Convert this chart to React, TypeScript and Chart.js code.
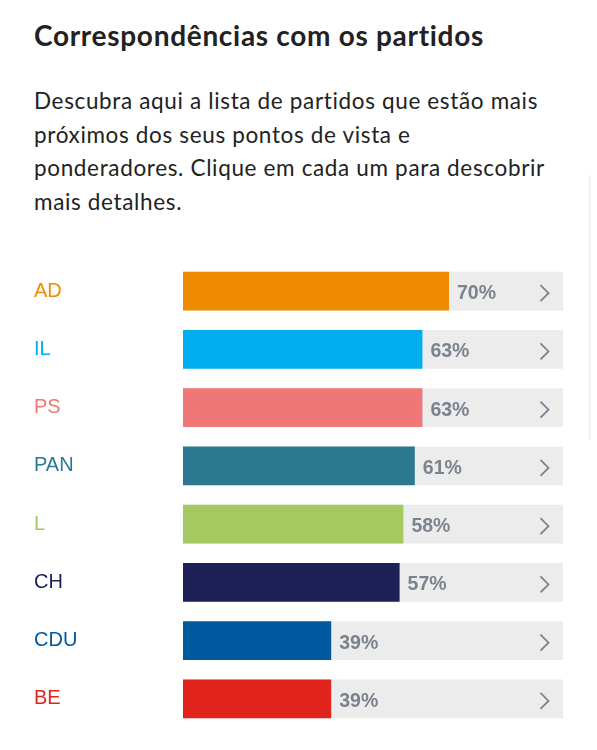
import React, { useEffect, useRef } from "react";
import { Chart, registerables } from "chart.js";

Chart.register(...registerables);

const TITLE = "Correspondências com os partidos";
const DESCRIPTION_LINES = [
  "Descubra aqui a lista de partidos que estão mais",
  "próximos dos seus pontos de vista e",
  "ponderadores. Clique em cada um para descobrir",
  "mais detalhes.",
];

const parties = ["AD", "IL", "PS", "PAN", "L", "CH", "CDU", "BE"];
const scores = [70, 63, 63, 61, 58, 57, 39, 39];
const trackValues = [100, 100, 100, 100, 100, 100, 100, 100];
const partyColors = ["#ef8b00", "#00aeef", "#ef7777", "#2b7891", "#a3c960", "#1e2157", "#005aa0", "#e0231b"];

const TRACK_COLOR = "#ececec";
const LABEL_GRAY = "#7b838f";

const valueLabelPlugin = {
  id: "valueLabels",
  afterDatasetsDraw(chart: any) {
    const ctx = chart.ctx;
    const meta = chart.getDatasetMeta(1);
    const xScale = chart.scales.x;
    const xEnd = xScale.getPixelForValue(100);
    ctx.save();
    ctx.fillStyle = LABEL_GRAY;
    ctx.strokeStyle = LABEL_GRAY;
    ctx.font = "bold 19.5px 'Liberation Sans', Arial, sans-serif";
    ctx.textBaseline = "middle";
    ctx.textAlign = "left";
    meta.data.forEach((bar: any, i: number) => {
      const y = bar.y;
      ctx.fillText(`${scores[i]}%`, bar.x + 8, y + 2.5);
      const cx = xEnd - 22.5;
      ctx.beginPath();
      ctx.lineWidth = 1.8;
      ctx.moveTo(cx, y + 2 - 8);
      ctx.lineTo(cx + 8, y + 2);
      ctx.lineTo(cx, y + 2 + 8);
      ctx.stroke();
    });
    ctx.restore();
  },
};

function PartyChart() {
  const canvasRef = useRef<HTMLCanvasElement | null>(null);
  useEffect(() => {
    if (!canvasRef.current) return;
    const chart = new Chart(canvasRef.current, {
      type: "bar",
      data: {
        labels: parties,
        datasets: [
          {
            label: "track",
            data: trackValues,
            backgroundColor: TRACK_COLOR,
            grouped: false,
            order: 2,
            barPercentage: 1,
            categoryPercentage: 39 / 58.3,
          } as any,
          {
            label: "score",
            data: scores,
            backgroundColor: partyColors,
            grouped: false,
            order: 1,
            barPercentage: 1,
            categoryPercentage: 39 / 58.3,
          } as any,
        ],
      },
      options: {
        indexAxis: "y",
        animation: false,
        responsive: true,
        maintainAspectRatio: false,
        layout: { padding: { left: 34, right: 34, top: 11.6, bottom: 22 } },
        plugins: {
          legend: { display: false },
          tooltip: { enabled: false },
        },
        scales: {
          x: { display: false, min: 0, max: 100 },
          y: {
            grid: { display: false },
            border: { display: false },
            afterFit: (scale: any) => {
              scale.width = 149;
            },
            ticks: {
              crossAlign: "far",
              padding: 0,
              color: (c: any) => partyColors[c.index],
              font: { family: "'Liberation Sans', Arial, sans-serif", size: 20 },
            },
          },
        },
      } as any,
      plugins: [valueLabelPlugin],
    });
    return () => chart.destroy();
  }, []);
  return (
    <div style={{ position: "absolute", left: 0, top: 250, width: 597, height: 500 }}>
      <canvas ref={canvasRef} />
    </div>
  );
}

export default function App() {
  return (
    <div
      style={{
        position: "fixed",
        left: 0,
        top: 0,
        width: 597,
        height: 750,
        background: "#ffffff",
        overflow: "hidden",
      }}
    >
      <div
        style={{
          position: "absolute",
          left: 34,
          top: 16,
          fontFamily: "Lato, 'Open Sans', sans-serif",
          fontWeight: 700,
          fontSize: 28,
          letterSpacing: "0.7px",
          color: "#222222",
          whiteSpace: "nowrap",
          lineHeight: "38px",
        }}
      >
        {TITLE}
      </div>
      <div
        style={{
          position: "absolute",
          left: 34,
          top: 84,
          fontFamily: "Lato, 'Open Sans', sans-serif",
          fontSize: 22.5,
          letterSpacing: "0.65px",
          color: "#222222",
          lineHeight: "33.5px",
          whiteSpace: "nowrap",
        }}
      >
        {DESCRIPTION_LINES.map((l, i) => (
          <div key={i}>{l}</div>
        ))}
      </div>
      <div
        style={{
          position: "absolute",
          left: 589,
          top: 175,
          width: 2,
          height: 265,
          background: "#f1f1f1",
        }}
      />
      <PartyChart />
    </div>
  );
}
